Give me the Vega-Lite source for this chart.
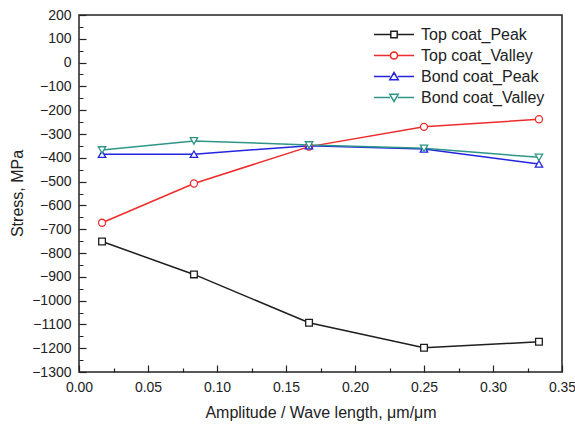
{
  "$schema": "https://vega.github.io/schema/vega-lite/v6.json",
  "width": 483,
  "height": 357,
  "autosize": {"type": "none"},
  "padding": {"left": 79, "top": 15, "right": 13, "bottom": 53},
  "background": "white",
  "config": {
    "view": {"stroke": "#222", "strokeWidth": 1.5},
    "axis": {"labelFont": "Liberation Sans", "titleFont": "Liberation Sans", "labelColor": "#222", "titleColor": "#222", "domain": false, "ticks": true, "tickColor": "#222", "tickWidth": 1.2, "grid": false, "titleFontWeight": "normal"}
  },
  "data": {
    "values": [
      {"series": "Top coat_Peak", "x": 0.0167, "y": -752},
      {"series": "Top coat_Peak", "x": 0.0833, "y": -890},
      {"series": "Top coat_Peak", "x": 0.1667, "y": -1093},
      {"series": "Top coat_Peak", "x": 0.25, "y": -1198},
      {"series": "Top coat_Peak", "x": 0.3333, "y": -1173},
      {"series": "Top coat_Valley", "x": 0.0167, "y": -673},
      {"series": "Top coat_Valley", "x": 0.0833, "y": -508},
      {"series": "Top coat_Valley", "x": 0.1667, "y": -353},
      {"series": "Top coat_Valley", "x": 0.25, "y": -270},
      {"series": "Top coat_Valley", "x": 0.3333, "y": -238},
      {"series": "Bond coat_Peak", "x": 0.0167, "y": -385},
      {"series": "Bond coat_Peak", "x": 0.0833, "y": -385},
      {"series": "Bond coat_Peak", "x": 0.1667, "y": -349},
      {"series": "Bond coat_Peak", "x": 0.25, "y": -363},
      {"series": "Bond coat_Peak", "x": 0.3333, "y": -426},
      {"series": "Bond coat_Valley", "x": 0.0167, "y": -367},
      {"series": "Bond coat_Valley", "x": 0.0833, "y": -329},
      {"series": "Bond coat_Valley", "x": 0.1667, "y": -346},
      {"series": "Bond coat_Valley", "x": 0.25, "y": -360},
      {"series": "Bond coat_Valley", "x": 0.3333, "y": -398}
    ]
  },
  "encoding": {
    "x": {
      "field": "x", "type": "quantitative",
      "scale": {"domain": [0, 0.35], "nice": false, "zero": false},
      "axis": {
        "title": "Amplitude / Wave length, μm/μm",
        "values": [0, 0.025, 0.05, 0.075, 0.1, 0.125, 0.15, 0.175, 0.2, 0.225, 0.25, 0.275, 0.3, 0.325, 0.35],
        "format": ".2f",
        "labelExpr": "round(datum.value*1000) % 50 === 0 ? datum.label : ''",
        "offset": -7,
        "tickSize": 7,
        "tickDash": {"condition": {"test": "round(datum.value*1000) % 50 !== 0", "value": [0, 3, 4, 20]}, "value": [10, 0]},
        "labelFontSize": 14, "labelPadding": 8, "labelOverlap": false, "labelFlush": false,
        "titleFontSize": 16, "titleY": 47, "titleBaseline": "middle"
      }
    },
    "y": {
      "field": "y", "type": "quantitative",
      "scale": {"domain": [-1300, 200], "nice": false, "zero": false},
      "axis": {
        "title": "Stress, MPa",
        "values": [-1300, -1250, -1200, -1150, -1100, -1050, -1000, -950, -900, -850, -800, -750, -700, -650, -600, -550, -500, -450, -400, -350, -300, -250, -200, -150, -100, -50, 0, 50, 100, 150, 200],
        "format": "d",
        "labelExpr": "datum.value % 100 === 0 ? datum.label : ''",
        "offset": -7,
        "tickSize": 7,
        "tickDash": {"condition": {"test": "datum.value % 100 !== 0", "value": [0, 3, 4, 20]}, "value": [10, 0]},
        "labelFontSize": 14, "labelPadding": 8, "labelOverlap": false, "labelFlush": false,
        "titleFontSize": 16, "titleX": -69, "titleY": 178, "titleBaseline": "middle", "titleAlign": "center", "titleAngle": -90
      }
    },
    "color": {
      "field": "series", "type": "nominal",
      "scale": {"domain": ["Top coat_Peak", "Top coat_Valley", "Bond coat_Peak", "Bond coat_Valley"], "range": ["#1e1e1e", "#ee2b2b", "#2424e0", "#2e9688"]},
      "legend": {
        "title": null, "orient": "none", "legendX": 294, "legendY": 9,
        "labelFont": "Liberation Sans", "labelFontSize": 16, "labelColor": "#222",
        "symbolSize": 1600, "clipHeight": 21, "rowPadding": 0, "labelOffset": 6,
        "symbolStrokeWidth": 1.5,
        "encode": {
          "symbols": {
            "update": {
              "shape": {"signal": "datum.value === 'Top coat_Peak' ? 'M-1,0L-0.16,0M0.16,0L1,0M-0.16,-0.16L0.16,-0.16L0.16,0.16L-0.16,0.16Z' : datum.value === 'Top coat_Valley' ? 'M-1,0L-0.18,0M0.18,0L1,0M0.18,0L0.166,0.069L0.127,0.127L0.069,0.166L0,0.18L-0.069,0.166L-0.127,0.127L-0.166,0.069L-0.18,0L-0.166,-0.069L-0.127,-0.127L-0.069,-0.166L0,-0.18L0.069,-0.166L0.127,-0.127L0.166,-0.069Z' : datum.value === 'Bond coat_Peak' ? 'M-1,0L-0.19,0M0.19,0L1,0M0,-0.2L0.21,0.16L-0.21,0.16Z' : 'M-1,0L-0.19,0M0.19,0L1,0M0,0.2L0.21,-0.16L-0.21,-0.16Z'"},
              "fill": {"value": "white"},
              "fillOpacity": {"value": 1}
            }
          }
        }
      }
    }
  },
  "layer": [
    {"mark": {"type": "line", "strokeWidth": 1.5}},
    {
      "transform": [{"filter": "datum.series === 'Top coat_Peak'"}],
      "mark": {"type": "point", "shape": "square", "filled": false, "fill": "white", "fillOpacity": 1, "strokeWidth": 1.3, "opacity": 1, "size": 45}
    },
    {
      "transform": [{"filter": "datum.series === 'Top coat_Valley'"}],
      "mark": {"type": "point", "shape": "circle", "filled": false, "fill": "white", "fillOpacity": 1, "strokeWidth": 1.3, "opacity": 1, "size": 50}
    },
    {
      "transform": [{"filter": "datum.series === 'Bond coat_Peak'"}],
      "mark": {"type": "point", "shape": "triangle-up", "filled": false, "fill": "white", "fillOpacity": 1, "strokeWidth": 1.3, "opacity": 1, "size": 55}
    },
    {
      "transform": [{"filter": "datum.series === 'Bond coat_Valley'"}],
      "mark": {"type": "point", "shape": "triangle-down", "filled": false, "fill": "white", "fillOpacity": 1, "strokeWidth": 1.3, "opacity": 1, "size": 55}
    }
  ]
}
